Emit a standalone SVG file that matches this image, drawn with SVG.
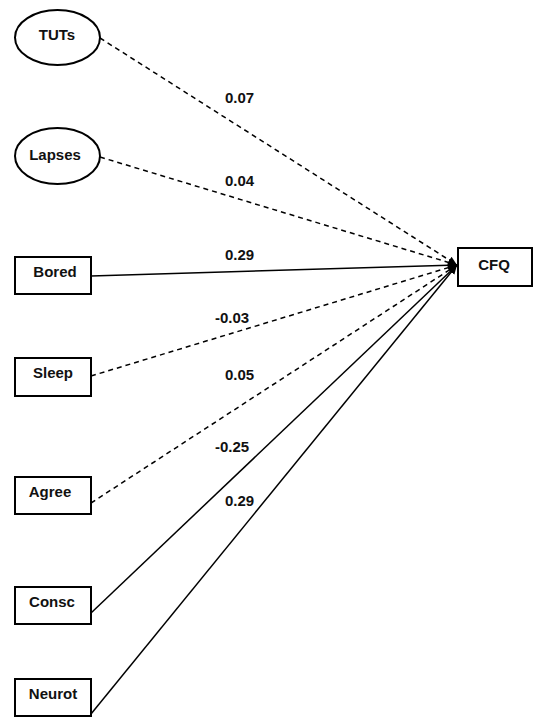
<svg xmlns="http://www.w3.org/2000/svg" width="533" height="717" viewBox="0 0 533 717">
<style>
.n{fill:#fff;stroke:#000;stroke-width:2}
.t{font-family:"Liberation Sans",Arial,sans-serif;font-weight:bold;font-size:15px;fill:#111}
.c{stroke:#000;stroke-width:1.5;fill:none}
.d{stroke-dasharray:5,4}
</style>
<defs>
<marker id="ah" markerUnits="userSpaceOnUse" markerWidth="10" markerHeight="10" refX="9" refY="5" orient="auto">
<path d="M0,1 L9,5 L0,9 Z" fill="#000"/>
</marker>
</defs>
<rect width="533" height="717" fill="#fff"/>
<g id="connectors">
<line class="c d" x1="100" y1="38" x2="457" y2="265" marker-end="url(#ah)"/>
<line class="c d" x1="100" y1="157" x2="457" y2="265" marker-end="url(#ah)"/>
<line class="c" x1="91" y1="276" x2="457" y2="265" marker-end="url(#ah)"/>
<line class="c d" x1="91" y1="376" x2="457" y2="265" marker-end="url(#ah)"/>
<line class="c d" x1="91" y1="503" x2="457" y2="265" marker-end="url(#ah)"/>
<line class="c" x1="91" y1="613" x2="457" y2="265" marker-end="url(#ah)"/>
<line class="c" x1="91" y1="714" x2="457" y2="265" marker-end="url(#ah)"/>
<text class="t" x="225" y="103">0.07</text>
<text class="t" x="225" y="186">0.04</text>
<text class="t" x="225" y="260">0.29</text>
<text class="t" x="215" y="323">-0.03</text>
<text class="t" x="225" y="380">0.05</text>
<text class="t" x="215" y="452">-0.25</text>
<text class="t" x="225" y="506">0.29</text>
</g>
<g id="TUTs"><ellipse class="n" cx="57.5" cy="37.5" rx="42.5" ry="27.5"/><text class="t" x="57" y="40" text-anchor="middle">TUTs</text></g>
<g id="Lapses"><ellipse class="n" cx="57.5" cy="156" rx="42.5" ry="28"/><text class="t" x="55" y="160" text-anchor="middle">Lapses</text></g>
<g id="Bored"><rect class="n" x="15" y="257" width="76" height="37"/><text class="t" x="55" y="277" text-anchor="middle">Bored</text></g>
<g id="Sleep"><rect class="n" x="15" y="358" width="76" height="38"/><text class="t" x="53" y="378" text-anchor="middle">Sleep</text></g>
<g id="Agree"><rect class="n" x="15" y="477" width="76" height="37"/><text class="t" x="50" y="497" text-anchor="middle">Agree</text></g>
<g id="Consc"><rect class="n" x="15" y="587" width="76" height="37"/><text class="t" x="52" y="607" text-anchor="middle">Consc</text></g>
<g id="Neurot"><rect class="n" x="15" y="679" width="76" height="37"/><text class="t" x="53" y="699" text-anchor="middle">Neurot</text></g>
<g id="CFQ"><rect class="n" x="458" y="248" width="74" height="38"/><text class="t" x="494" y="270" text-anchor="middle">CFQ</text></g>
</svg>
